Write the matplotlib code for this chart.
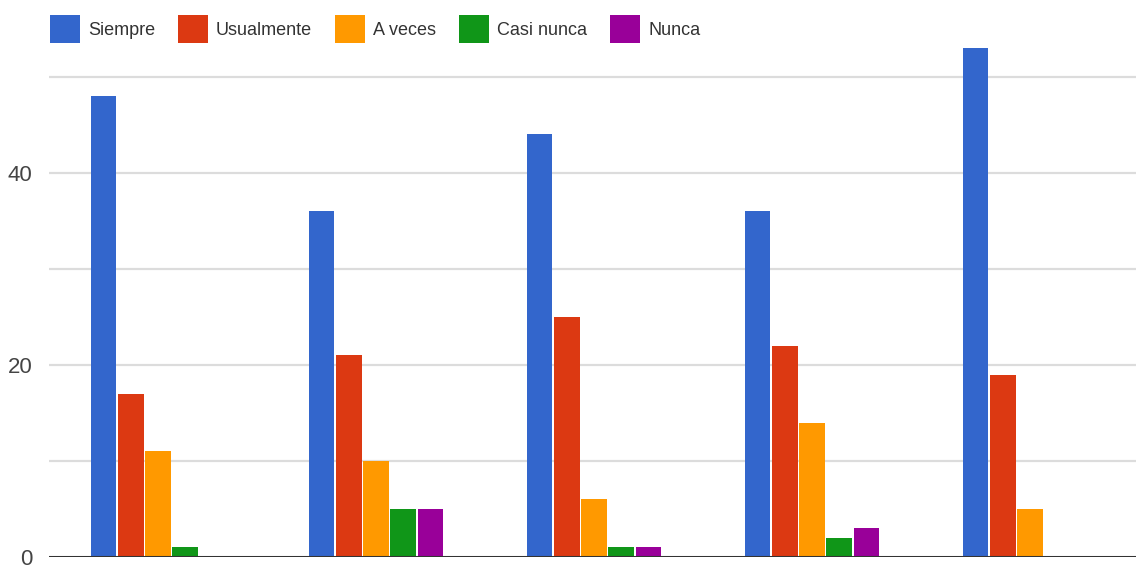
import matplotlib.pyplot as plt
import numpy as np

# survey answers per question group
groups = ['1', '2', '3', '4', '5']
series = ['Siempre', 'Usualmente', 'A veces', 'Casi nunca', 'Nunca']
siempre = [48, 36, 44, 36, 53]
usualmente = [17, 21, 25, 22, 19]
a_veces = [11, 10, 6, 14, 5]
casi_nunca = [1, 5, 1, 2, 0]
nunca = [0, 5, 1, 3, 0]
y_labels = [0, 20, 40]

colors = ['#3366cc', '#dc3912', '#ff9900', '#109618', '#990099']
font = ['Liberation Sans Narrow', 'Liberation Sans', 'DejaVu Sans']


def plot_bars(ax, values):
    x = np.arange(len(groups))
    step = 0.125
    for i, (name, vals) in enumerate(zip(series, values)):
        ax.bar(x + (i - 2) * step, vals, width=step * 0.94,
               color=colors[i], label=name, zorder=3)
    ax.set_xlim(-0.5, len(groups) - 0.5)
    ax.set_ylim(0, 58.0)


if __name__ == '__main__':
    fig = plt.figure(figsize=(11.36, 5.70), dpi=100)
    ax = fig.add_axes([49 / 1136, 13 / 570, 1090 / 1136, 557 / 570])
    plot_bars(ax, [siempre, usualmente, a_veces, casi_nunca, nunca])

    # grid every 10, labels every 20
    for v in range(10, 60, 10):
        ax.axhline(v, color='#dcdcdc', lw=1.6, zorder=1)
    ax.axhline(0, color='#333333', lw=2.2, zorder=4)
    ax.set_yticks(y_labels)
    ax.set_yticklabels([str(v) for v in y_labels], family=font,
                       fontsize=16, color='#444444')
    ax.tick_params(axis='y', length=0, pad=12)
    ax.set_xticks([])
    for s in ax.spines.values():
        s.set_visible(False)

    leg = ax.legend(loc='center left', bbox_to_anchor=(50 / 1136, 1 - 29 / 570),
                    bbox_transform=fig.transFigure, ncol=5, frameon=False,
                    prop={'family': font, 'size': 13}, handlelength=1.65,
                    handleheight=2.0, handletextpad=0.45, columnspacing=1.28,
                    borderaxespad=0, borderpad=0)
    for t in leg.get_texts():
        t.set_color('#333333')

    fig.savefig('out.png', dpi=100)
